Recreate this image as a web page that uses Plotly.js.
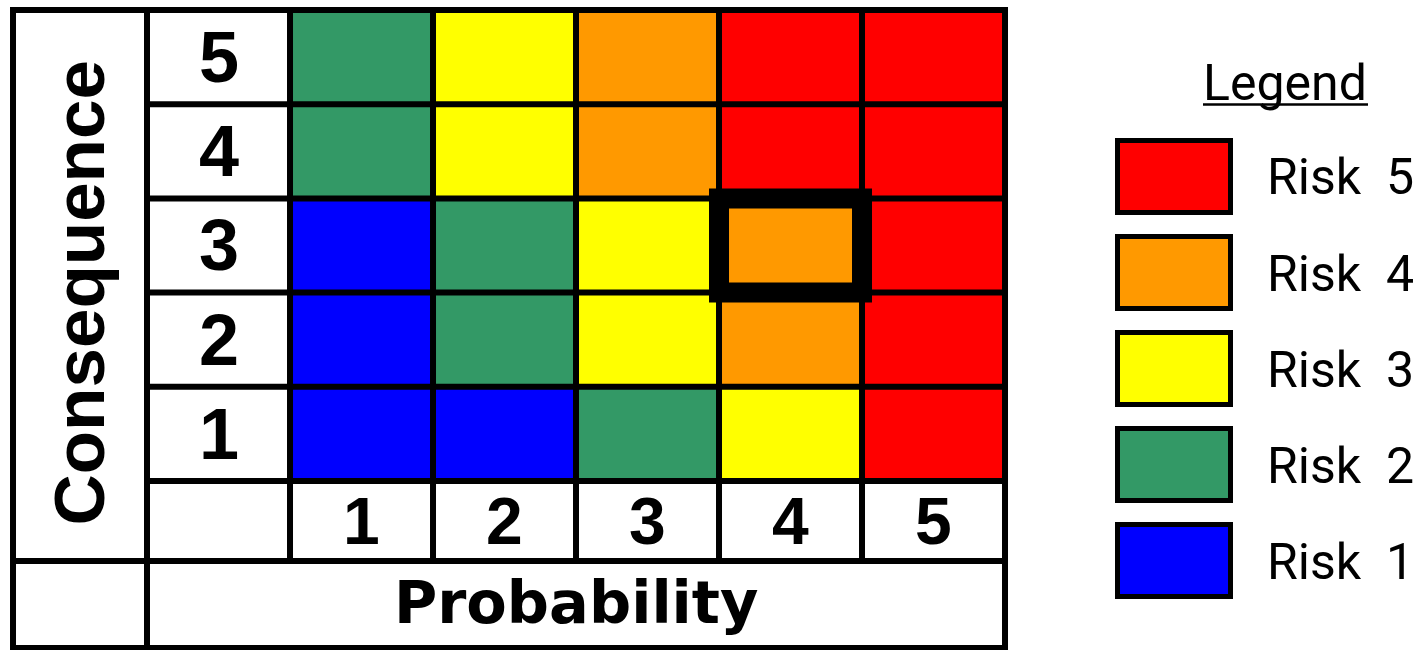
<!DOCTYPE html>
<html>
<head>
<meta charset="utf-8">
<script src="https://cdn.plot.ly/plotly-3.0.1.min.js"></script>
<style>html,body{margin:0;padding:0;background:#fff;overflow:hidden}#chart{width:1425px;height:650px}</style>
</head>
<body>
<div id="chart"></div>
<script>
// ---- data ----
const probabilities = [1, 2, 3, 4, 5];
const consequences = [1, 2, 3, 4, 5];
// risk level per cell, one row per consequence (1..5), columns = probability 1..5
const riskByConsequence1 = [1, 1, 2, 3, 5];
const riskByConsequence2 = [1, 2, 3, 4, 5];
const riskByConsequence3 = [1, 2, 3, 4, 5];
const riskByConsequence4 = [2, 3, 4, 5, 5];
const riskByConsequence5 = [2, 3, 4, 5, 5];
const riskLevels = [1, 2, 3, 4, 5];
const riskColors = ['#0000FF', '#339966', '#FFFF00', '#FF9900', '#FF0000'];
const legendLabels = ['Risk\u00a0\u00a05', 'Risk\u00a0\u00a04', 'Risk\u00a0\u00a03', 'Risk\u00a0\u00a02', 'Risk\u00a0\u00a01'];
const legendLevels = [5, 4, 3, 2, 1];
const highlightProbability = 4;
const highlightConsequence = 3;
const xTitle = 'Probability';
const yTitle = 'Consequence';
const legendTitle = 'Legend';

// ---- layout geometry ----
const W = 1425, H = 650;
const xRange = [-1.528, 8.437];
const yRange = [-1.294, 5.606];
const labelColLeft = -1.437;     // outer left border
const labelColRight = -0.5;      // separator between title column and numbers
const numberRowBottom = -0.349;  // bottom of the probability numbers row
const tableBottom = -1.273;      // outer bottom border
const pMin = Math.min(...probabilities) - 0.5, pMax = Math.max(...probabilities) + 0.5;
const cMin = Math.min(...consequences) - 0.5, cMax = Math.max(...consequences) + 0.5;

const z = [riskByConsequence1, riskByConsequence2, riskByConsequence3, riskByConsequence4, riskByConsequence5];
const n = riskLevels.length;
const colorscale = [];
riskLevels.forEach((lv, i) => {
  colorscale.push([i / n, riskColors[i]]);
  colorscale.push([(i + 1) / n, riskColors[i]]);
});

const heat = {
  type: 'heatmap',
  x: probabilities,
  y: consequences,
  z: z,
  zmin: 0.5,
  zmax: n + 0.5,
  colorscale: colorscale,
  showscale: false,
  hoverinfo: 'skip'
};

const LW = 6;
const lineStyle = {color: '#000', width: LW};
const shapes = [];
// outer frame
shapes.push({type: 'rect', xref: 'x', yref: 'y', x0: labelColLeft, x1: pMax, y0: tableBottom, y1: cMax, line: lineStyle, layer: 'above'});
// title column separator (full height)
shapes.push({type: 'line', xref: 'x', yref: 'y', x0: labelColRight, x1: labelColRight, y0: tableBottom, y1: cMax, line: lineStyle, layer: 'above'});
// probability column boundaries (left edge of every probability column)
probabilities.forEach(p => {
  shapes.push({type: 'line', xref: 'x', yref: 'y', x0: p - 0.5, x1: p - 0.5, y0: numberRowBottom, y1: cMax, line: lineStyle, layer: 'above'});
});
// consequence row boundaries
consequences.forEach(c => {
  shapes.push({type: 'line', xref: 'x', yref: 'y', x0: labelColRight, x1: pMax, y0: c - 0.5, y1: c - 0.5, line: lineStyle, layer: 'above'});
});
// numbers row bottom (full width)
shapes.push({type: 'line', xref: 'x', yref: 'y', x0: labelColLeft, x1: pMax, y0: numberRowBottom, y1: numberRowBottom, line: lineStyle, layer: 'above'});
// highlighted cell
shapes.push({type: 'rect', xref: 'x', yref: 'y',
  x0: highlightProbability - 0.5, x1: highlightProbability + 0.5,
  y0: highlightConsequence - 0.5, y1: highlightConsequence + 0.5,
  line: {color: '#000', width: 20}, layer: 'above'});

const annotations = [];
const boldFont = (size, family) => ({family: family || 'Liberation Sans, Arial, sans-serif', size: size, color: '#000', weight: 'bold'});
consequences.forEach(c => {
  annotations.push({x: 0, y: c, xref: 'x', yref: 'y', text: String(c), showarrow: false,
    xanchor: 'center', yanchor: 'middle', font: boldFont(72)});
});
probabilities.forEach(p => {
  annotations.push({x: p, y: (cMin + numberRowBottom) / 2, xref: 'x', yref: 'y', text: String(p), showarrow: false,
    xanchor: 'center', yanchor: 'middle', font: boldFont(66)});
});
annotations.push({x: (labelColRight + pMax) / 2, y: (numberRowBottom + tableBottom) / 2 + 0.02, xref: 'x', yref: 'y',
  text: xTitle, showarrow: false, xanchor: 'center', yanchor: 'middle',
  font: boldFont(59, 'DejaVu Sans, sans-serif')});
annotations.push({x: (labelColLeft + labelColRight) / 2, y: (cMin + cMax) / 2 - 0.5, xref: 'x', yref: 'y',
  text: yTitle, showarrow: false, textangle: -90, xanchor: 'center', yanchor: 'middle',
  font: boldFont(71)});

// ---- legend (paper coords from pixel positions) ----
const px = v => v / W;
const py = v => 1 - v / H;
const legFont = {family: 'Roboto, sans-serif', size: 50, color: '#000'};
annotations.push({x: px(1285), y: py(83), xref: 'paper', yref: 'paper', text: legendTitle, showarrow: false,
  xanchor: 'center', yanchor: 'middle', font: legFont});
shapes.push({type: 'line', xref: 'paper', yref: 'paper', x0: px(1203), x1: px(1368), y0: py(104.5), y1: py(104.5),
  line: {color: '#000', width: 2.5}});
legendLevels.forEach((lv, i) => {
  const cy = 176.5 + 96 * i;
  shapes.push({type: 'rect', xref: 'paper', yref: 'paper', x0: px(1117.5), x1: px(1230.5), y0: py(cy + 36), y1: py(cy - 36),
    fillcolor: riskColors[riskLevels.indexOf(lv)], line: {color: '#000', width: 5}});
  annotations.push({x: px(1265), y: py(cy + 1), xref: 'paper', yref: 'paper', text: legendLabels[i], showarrow: false,
    xanchor: 'left', yanchor: 'middle', font: legFont});
});

const layout = {
  width: W, height: H,
  margin: {l: 0, r: 0, t: 0, b: 0, pad: 0},
  paper_bgcolor: '#fff', plot_bgcolor: '#fff',
  showlegend: false,
  xaxis: {range: xRange, visible: false, fixedrange: true},
  yaxis: {range: yRange, visible: false, fixedrange: true},
  shapes: shapes,
  annotations: annotations
};

Plotly.newPlot('chart', [heat], layout, {staticPlot: true, displayModeBar: false});
</script>
</body>
</html>
